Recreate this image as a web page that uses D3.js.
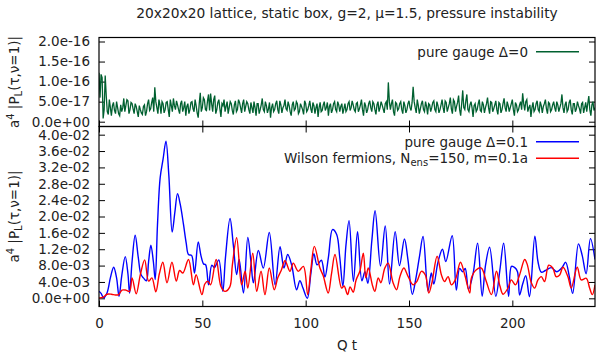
<!DOCTYPE html>
<html><head><meta charset="utf-8">
<script src="https://cdn.jsdelivr.net/npm/d3@7"></script>
<style>body{margin:0;background:#fff}svg{display:block}text{font-family:"DejaVu Sans",sans-serif;fill:#222}</style>
</head><body><svg id="c" width="596" height="353"></svg>
<script>
const titleText = "20x20x20 lattice, static box, g=2, μ=1.5, pressure instability";
const xTicks = [0, 50, 100, 150, 200];
const topTicks = [0, 5e-17, 1e-16, 1.5e-16, 2e-16];
const topTickLabels = ["0.0e+00","5.0e-17","1.0e-16","1.5e-16","2.0e-16"];
const botTicks = [0,0.004,0.008,0.012,0.016,0.020,0.024,0.028,0.032,0.036,0.040];
const botTickLabels = ["0.0e+00","4.0e-03","8.0e-03","1.2e-02","1.6e-02","2.0e-02","2.4e-02","2.8e-02","3.2e-02","3.6e-02","4.0e-02"];

// pure gauge Δ=0, values in units of 1e-17, at t = 0,1,2,...,240
const greenWhole = [12.2,11.8,0.8,11.5,2.5,5.5,1.5,4.8,2.0,3.5,1.5,2.5,5.8,4.0,5.2,3.0,4.5,2.0,3.8,1.2,
3.0,1.8,4.2,2.5,5.5,3.2,6.0,8.6,3.5,5.5,2.0,4.5,3.0,5.0,1.2,4.0,5.8,3.0,4.2,2.0,
5.2,3.5,1.5,4.5,3.0,5.0,2.5,4.0,1.0,7.2,3.5,5.5,2.8,6.8,7.0,2.5,6.5,3.0,5.5,1.2,
4.0,2.5,5.0,3.5,4.5,1.8,5.2,3.0,4.8,2.2,5.5,3.8,4.5,2.0,3.5,5.0,1.5,4.5,3.0,5.8,
2.5,4.0,3.2,1.0,4.5,3.0,5.2,2.0,4.2,3.5,5.5,2.8,4.0,1.5,5.0,3.2,4.5,2.5,3.8,1.8,
4.5,3.0,5.2,2.2,4.0,3.5,1.2,4.8,2.8,5.0,3.5,1.5,4.5,3.0,5.0,2.5,4.2,3.8,2.0,4.5,
3.0,5.0,3.5,4.2,2.5,4.8,3.2,5.5,1.5,4.0,3.0,5.2,2.5,4.5,1.8,5.0,3.5,4.2,2.2,5.0,
9.8,3.0,5.5,1.5,4.5,3.2,5.0,2.0,4.0,3.0,5.2,2.8,8.7,3.5,5.5,2.0,4.5,3.0,5.0,1.8,
4.2,3.5,5.2,2.5,4.0,3.0,5.5,2.2,4.8,3.5,6.0,2.0,5.0,3.8,6.5,1.5,7.8,3.0,6.8,2.5,
5.0,1.2,4.5,3.0,5.5,2.5,4.2,3.5,6.0,2.0,4.8,3.2,5.2,1.8,4.5,3.0,5.8,2.5,4.0,3.5,
5.5,1.5,4.2,3.0,5.0,7.1,2.8,5.5,3.5,1.2,4.8,3.0,5.2,2.5,4.0,3.8,5.5,2.0,4.5,3.0,
5.0,2.5,4.2,3.5,6.8,2.2,5.0,3.0,5.5,1.8,4.5,3.2,4.0,2.0,4.8,3.5,2.5,6.4,1.5,5.0,3.5];
// same series at t = 0.5,1.5,...,239.5
const greenHalf = [6.0,11.0,3.0,6.5,1.8,3.5,4.0,2.8,5.0,2.0,
4.2,3.5,2.5,5.5,2.0,4.8,3.2,4.5,2.5,4.0,
2.2,3.8,1.5,4.5,2.8,4.8,2.5,5.0,2.0,4.2,
5.0,2.2,4.8,3.0,5.5,2.5,4.0,5.2,3.0,4.5,
2.5,5.0,3.8,2.0,4.8,3.2,5.5,2.2,4.5,2.5,
6.0,3.0,5.2,2.8,4.5,5.5,2.0,4.8,3.2,4.5,
5.5,3.8,2.0,5.0,2.8,4.2,2.5,5.5,3.5,4.5,
2.5,5.0,3.0,4.8,2.2,3.5,4.5,2.0,4.2,3.0,
5.0,2.2,4.8,3.5,2.5,4.5,3.0,5.2,2.2,4.0,
3.2,5.0,2.5,4.2,2.8,5.0,2.0,4.5,3.0,5.2,
2.5,4.0,3.2,4.8,2.0,4.5,3.5,2.5,4.2,2.8,
4.8,3.8,2.2,4.5,3.0,5.0,2.5,4.5,3.2,2.5,
4.5,2.8,5.2,3.0,4.5,2.5,4.2,3.0,4.8,2.2,
4.5,3.5,5.0,3.0,4.2,2.5,5.0,3.2,4.5,3.0,
5.0,4.5,2.5,4.8,2.8,4.5,3.0,5.0,2.2,4.5,
3.5,4.8,5.0,2.2,4.0,3.2,5.2,2.5,3.8,4.5,
2.5,4.8,3.0,5.0,2.2,4.2,3.5,5.2,2.5,4.5,
3.2,5.5,2.5,4.8,3.0,4.5,3.5,5.2,3.0,4.2,
3.5,4.0,2.5,4.5,2.8,5.0,2.2,4.5,3.5,5.0,
2.5,4.2,3.0,4.8,2.2,4.5,3.5,5.0,2.5,4.5,
3.0,4.8,2.5,4.2,3.0,4.5,5.0,2.5,4.2,3.5,
2.5,4.5,3.0,5.0,2.2,4.5,3.2,4.8,2.5,4.2,
3.5,5.0,2.5,4.5,3.5,4.2,2.5,4.8,3.0,4.5,
2.5,5.0,3.2,4.5,2.2,4.8,4.5,3.0,4.2,2.8];

// pure gauge Δ=0.1 (units of 1e-3)
const blueT = [0,1,2.3,4,5.5,7.1,8.5,9.7,11,12.7,14,14.8,16,17.5,19,20.3,21.5,22.9,24,25.1,26.3,27.2,28.3,29.6,31,32.4,33.8,35.4,36.7,38,39.3,40.9,42.2,43.3,44.8,46.2,48,49.3,50.6,51.6,53,54.6,55.8,56.5,58,59.9,61.2,63.4,65,66.6,67.8,69.9,72,73.5,74.7,77.1,79.5,82.4,85.2,87.6,89.5,91.3,93.2,95.6,97.2,98.7,100.8,102.5,104,105.5,107.6,109.3,111,113,115,116.5,118,119.5,121,123.1,125.1,127.2,128.7,130.1,132,133.6,136.2,138.5,140.6,143.3,145.4,147.8,149.5,151.6,153.2,155,156.8,159.2,160.8,162,164,166.2,167.8,170.9,172.9,174.5,176,177.2,178.8,181,183.2,185.4,187,189,192,194,195.8,198.2,199.6,201.2,202.5,203.5,205,206.5,208.3,210.9,212.4,214,216,218.8,221.5,224,225.8,227.5,229.2,232,233.8,235.7,237.8,240];
const blueV = [1.7,1.2,0.1,1.5,5.0,7.6,5.0,0.5,5.5,10.2,6.0,1.3,9.0,15.4,10.0,5.8,5.0,4.3,9.0,13.0,9.0,4.6,18.0,29.5,34.0,38.4,30.0,16.2,21.0,25.6,23.0,18.0,13.5,10.7,10.5,6.2,13.8,10.5,8.4,8.2,3.3,8.1,7.5,8.0,9.4,1.7,10.0,19.5,13.0,5.8,9.5,1.3,14.9,9.0,3.8,11.7,7.4,16.1,3.3,12.6,7.4,10.7,8.2,2.1,4.3,2.5,0.0,6.0,10.9,8.2,9.3,5.2,10.0,16.8,15.6,10.0,3.0,13.0,19.0,4.1,16.3,4.3,6.5,3.7,14.0,21.4,7.9,17.7,3.5,16.3,8.0,14.5,9.4,1.0,4.5,10.0,15.1,1.8,6.2,3.5,8.8,12.0,9.0,15.3,2.0,7.3,6.5,7.3,2.2,6.0,13.5,0.5,8.0,12.5,0.5,7.0,13.5,0.5,7.8,7.5,6.5,0.8,3.5,5.5,0.4,15.2,9.0,6.4,6.8,7.5,6.5,7.5,8.8,5.5,1.2,13.3,10.5,6.0,14.6,9.5];

// Wilson fermions (units of 1e-3)
const redT = [0,2,3.9,6,8,9.5,11.1,13,14.8,16,18,20,22.1,24,25.6,27.5,29.2,30.9,32.9,35.3,37.4,39,40.6,43.3,45.7,47,49.8,51.2,52.7,54,56.7,59,61,63.3,64.5,66.6,69,70.7,72,74.4,76.3,78.4,80.3,82.4,84.8,86.5,88.3,90,92.4,94,96.4,98.9,101,102.5,104.2,106.9,108.5,110.9,112.5,114.2,117.4,118.6,120.3,121.5,123,124.4,126.2,127.9,129.1,130.3,132.4,133.5,135.1,136.4,138.3,139.9,142.3,144,145.6,147.5,149.6,152,153.8,156,157.9,159.6,161.2,163.6,165.7,167.2,168.9,170.5,172.4,174.9,177,179.4,180.2,182.6,185,187.4,189.9,192.3,194,195.5,197.9,199.5,201.5,203.5,206,207.2,209.2,210.8,212.4,214,215.6,217.6,219.6,221.2,222.9,224.5,226.9,228.5,231.4,233.3,235.8,237.4,238.7,240];
const redV = [0.1,0.3,1.0,1.0,0.8,0.9,2.0,2.0,1.7,5.0,1.1,5.8,9.4,4.2,5.0,1.6,6.0,8.8,3.8,8.8,4.2,6.8,6.2,9.5,3.3,5.8,0.9,3.5,4.2,3.3,9.5,2.9,1.7,2.8,8.0,14.8,3.3,6.6,2.5,11.0,1.7,6.6,0.9,7.4,2.1,5.0,7.0,9.2,6.6,8.6,6.6,7.8,0.9,7.0,12.7,7.4,5.5,1.3,6.0,10.7,2.5,3.0,0.9,2.8,1.5,4.5,6.6,11.0,5.0,7.4,3.0,1.7,5.0,3.8,7.4,8.6,3.8,2.1,5.3,7.4,5.3,3.3,4.1,6.6,5.7,1.3,4.1,10.3,5.7,4.1,5.3,3.3,4.5,8.8,5.7,1.3,5.0,7.0,7.4,4.1,0.9,6.6,3.0,1.0,2.5,4.5,3.3,5.7,9.5,8.3,3.8,2.5,4.5,5.3,4.1,8.1,7.4,5.3,5.7,7.6,5.3,2.5,7.6,4.5,4.9,2.5,0.9,3.3];

const svg = d3.select("#c");
const L = 99, R = 595;
const topY0 = 37.5, topY1 = 126.5, botY0 = 126.5, botY1 = 306.5;
const FS = 13.5;

const x = d3.scaleLinear().domain([0, 240]).range([L, R]);
const yTop = d3.scaleLinear().domain([-1.2e-17, 2.1e-16]).range([topY1, topY0]);
const yBot = d3.scaleLinear().domain([-0.002, 0.042]).range([botY1, botY0]);

const defs = svg.append("defs");
defs.append("clipPath").attr("id","clipTop").append("rect").attr("x",L).attr("y",topY0).attr("width",R-L).attr("height",topY1-topY0);
defs.append("clipPath").attr("id","clipBot").append("rect").attr("x",L).attr("y",botY0).attr("width",R-L).attr("height",botY1-botY0);

function styleAxis(g, labels) {
  g.select(".domain").remove();
  g.selectAll(".tick line").attr("stroke","#000").attr("stroke-width",1);
  g.selectAll(".tick text").attr("font-size",FS).attr("font-family","DejaVu Sans").attr("fill","#222");
  if (!labels) g.selectAll(".tick text").remove();
}

// Top panel axes
svg.append("g").attr("transform",`translate(${L},0)`)
  .call(d3.axisLeft(yTop).tickValues(topTicks).tickFormat((d,i)=>topTickLabels[i]).tickSize(-6).tickPadding(9))
  .call(g=>styleAxis(g,true));
svg.append("g").attr("transform",`translate(${R},0)`)
  .call(d3.axisRight(yTop).tickValues(topTicks).tickSize(-6))
  .call(g=>styleAxis(g,false));
svg.append("g").attr("transform",`translate(0,${topY1})`)
  .call(d3.axisBottom(x).tickValues(xTicks).tickSize(-6))
  .call(g=>styleAxis(g,false));

// Bottom panel axes
svg.append("g").attr("transform",`translate(${L},0)`)
  .call(d3.axisLeft(yBot).tickValues(botTicks).tickFormat((d,i)=>botTickLabels[i]).tickSize(-6).tickPadding(9))
  .call(g=>styleAxis(g,true));
svg.append("g").attr("transform",`translate(${R},0)`)
  .call(d3.axisRight(yBot).tickValues(botTicks).tickSize(-6))
  .call(g=>styleAxis(g,false));
svg.append("g").attr("transform",`translate(0,${botY0})`)
  .call(d3.axisTop(x).tickValues(xTicks).tickSize(-6))
  .call(g=>styleAxis(g,false));
svg.append("g").attr("transform",`translate(0,${botY1})`)
  .call(d3.axisBottom(x).tickValues(xTicks).tickFormat(d3.format("d")).tickSize(-6).tickPadding(12))
  .call(g=>styleAxis(g,true));

// data lines
const greenData = [];
greenWhole.forEach((v,i)=>{
  greenData.push([i, v*1e-17]);
  if (i < greenHalf.length) greenData.push([i+0.5, greenHalf[i]*1e-17]);
});
svg.append("path").datum(greenData).attr("clip-path","url(#clipTop)")
  .attr("fill","none").attr("stroke","#006030").attr("stroke-width",1.3)
  .attr("d", d3.line().x(d=>x(d[0])).y(d=>yTop(d[1])));

const lineB = d3.line().curve(d3.curveCatmullRom.alpha(0.5)).x(d=>x(d[0])).y(d=>yBot(d[1]));
const redData = redT.map((t,i)=>[t, redV[i]*1e-3]);
const blueData = blueT.map((t,i)=>[t, blueV[i]*1e-3]);
svg.append("path").datum(blueData).attr("clip-path","url(#clipBot)")
  .attr("fill","none").attr("stroke","#0000ff").attr("stroke-width",1.4).attr("d", lineB);
svg.append("path").datum(redData).attr("clip-path","url(#clipBot)")
  .attr("fill","none").attr("stroke","#ff0000").attr("stroke-width",1.4).attr("d", lineB);

// borders
svg.append("rect").attr("x",L).attr("y",topY0).attr("width",R-L).attr("height",topY1-topY0)
  .attr("fill","none").attr("stroke","#000").attr("stroke-width",1.2);
svg.append("rect").attr("x",L).attr("y",botY0).attr("width",R-L).attr("height",botY1-botY0)
  .attr("fill","none").attr("stroke","#000").attr("stroke-width",1.2);

// title
svg.append("text").attr("x",(L+R)/2).attr("y",18).attr("text-anchor","middle").attr("font-size",13.8).text(titleText);
// x label
svg.append("text").attr("x",(L+R)/2).attr("y",350).attr("text-anchor","middle").attr("font-size",FS).text("Q t");

// y labels
function yLabel(cy) {
  const t = svg.append("text").attr("transform",`translate(19,${cy}) rotate(-90)`).attr("text-anchor","middle").attr("font-size",FS);
  t.append("tspan").text("a");
  t.append("tspan").attr("dy",-5).attr("font-size",10).text("4");
  t.append("tspan").attr("dy",5).text(" |P");
  t.append("tspan").attr("dy",3).attr("font-size",10).text("L");
  t.append("tspan").attr("dy",-3).text("(τ,ν=1)|");
}
yLabel((topY0+topY1)/2);
yLabel((botY0+botY1)/2);

// legends
const LX1 = 536, LX2 = 579, LT = 528;
function legendLine(y, color) {
  svg.append("line").attr("x1",LX1).attr("x2",LX2).attr("y1",y).attr("y2",y).attr("stroke",color).attr("stroke-width",1.4);
}
svg.append("text").attr("x",LT).attr("y",56.5).attr("text-anchor","end").attr("font-size",FS).text("pure gauge Δ=0");
legendLine(51.7, "#006030");
svg.append("text").attr("x",LT).attr("y",146.5).attr("text-anchor","end").attr("font-size",FS).text("pure gauge Δ=0.1");
legendLine(141.7, "#0000ff");
const wt = svg.append("text").attr("x",LT).attr("y",163).attr("text-anchor","end").attr("font-size",FS);
wt.append("tspan").text("Wilson fermions, N");
wt.append("tspan").attr("dy",3).attr("font-size",10).text("ens");
wt.append("tspan").attr("dy",-3).text("=150, m=0.1a");
legendLine(158.3, "#ff0000");
</script></body></html>
